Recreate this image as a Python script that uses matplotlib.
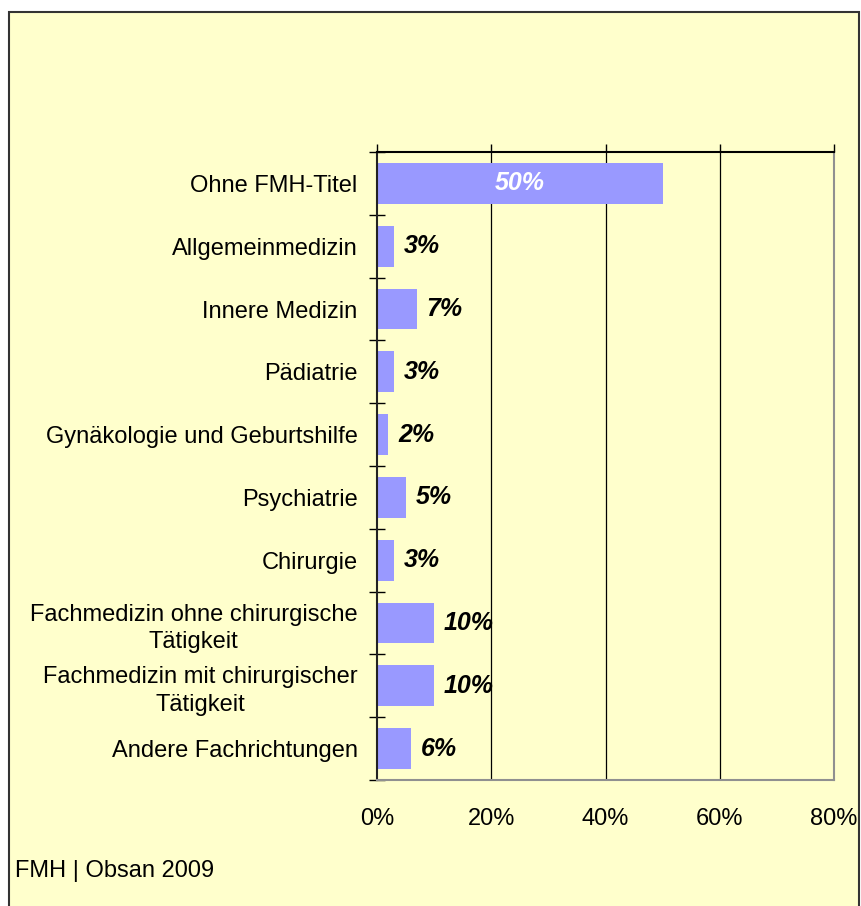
import matplotlib
matplotlib.use("Agg")
import matplotlib.pyplot as plt
from matplotlib.patches import Rectangle
import numpy as np

plt.rcParams['font.family'] = ['Liberation Sans', 'DejaVu Sans']

categories = [
    "Ohne FMH-Titel",
    "Allgemeinmedizin",
    "Innere Medizin",
    "Pädiatrie",
    "Gynäkologie und Geburtshilfe",
    "Psychiatrie",
    "Chirurgie",
    "Fachmedizin ohne chirurgische\nTätigkeit",
    "Fachmedizin mit chirurgischer\nTätigkeit",
    "Andere Fachrichtungen",
]
values = [50, 3, 7, 3, 2, 5, 3, 10, 10, 6]
xticks = [0, 20, 40, 60, 80]
xticklabels = ["0%", "20%", "40%", "60%", "80%"]
source = "FMH | Obsan 2009"

W, H = 861, 906
fig = plt.figure(figsize=(W / 100, H / 100), dpi=100)
fig.patch.set_facecolor("white")

bg = "#FFFFCC"
fig.patches.append(Rectangle((9 / W, -0.02), (859 - 9) / W, 1 - 12 / H + 0.02,
                             transform=fig.transFigure, facecolor=bg,
                             edgecolor="#333333", linewidth=1.5, zorder=-10))

ax = fig.add_axes([377 / W, 1 - 780 / H, (834 - 377) / W, (780 - 152) / H])
ax.set_facecolor(bg)

y = np.arange(len(categories))
ax.barh(y, values, height=0.65, color="#9999FF", zorder=2)
ax.set_xlim(0, 80)
ax.set_ylim(len(categories) - 0.5, -0.5)

fs = 17
vfs = 18
for i, v in enumerate(values):
    if i == 0:
        ax.text(v / 2, i, f"{v}%", color="white", fontsize=vfs, fontweight="bold",
                fontstyle="italic", ha="center", va="center", zorder=3)
    else:
        ax.annotate(f"{v}%", xy=(v, i), xytext=(7, 0), textcoords="offset points",
                    fontsize=vfs, fontweight="bold", fontstyle="italic",
                    ha="left", va="center", zorder=3)

# gridlines
for g in xticks[1:-1]:
    ax.axvline(g, color="black", linewidth=0.9, zorder=1)

# spines
ax.spines["top"].set_color("black")
ax.spines["top"].set_linewidth(1.5)
ax.spines["left"].set_color("#222222")
ax.spines["left"].set_linewidth(1.5)
ax.spines["right"].set_color("#909090")
ax.spines["right"].set_linewidth(1.5)
ax.spines["bottom"].set_color("#909090")
ax.spines["bottom"].set_linewidth(1.5)

# x axis: tick marks on top, labels at bottom
ax.set_xticks(xticks)
ax.set_xticklabels(xticklabels, fontsize=fs)
ax.tick_params(axis="x", top=True, bottom=False, labeltop=False, labelbottom=True,
               direction="out", length=6, width=1, pad=14, color="black")

# y axis: labels at category centres, tick marks at boundaries
ax.set_yticks(y)
ax.set_yticklabels(categories, fontsize=fs)
for lab in ax.get_yticklabels():
    lab.set_multialignment("center")
    lab.set_linespacing(1.32)
ax.tick_params(axis="y", which="major", length=0, pad=14)
ax.set_yticks(np.arange(len(categories) + 1) - 0.5, minor=True)
ax.tick_params(axis="y", which="minor", direction="inout", length=12, width=1, color="black")

fig.text(15 / W, 1 - 871 / H, source, fontsize=fs, ha="left", va="center")

fig.savefig("out.png", dpi=100, facecolor=fig.get_facecolor())
